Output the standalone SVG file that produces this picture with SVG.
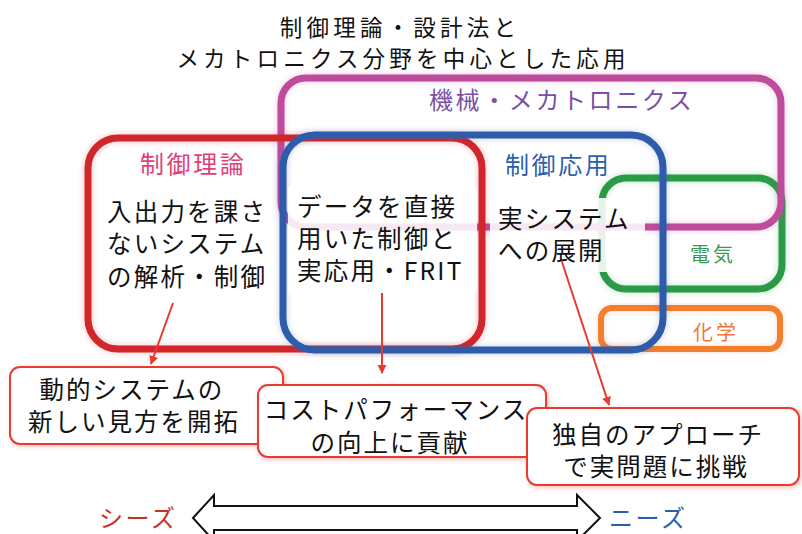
<svg xmlns="http://www.w3.org/2000/svg" width="802" height="534" viewBox="0 0 802 534">
  <defs>
    <style>
      text { font-family: "Noto Sans CJK JP", "Noto Sans", sans-serif; }
      .title { font-size: 22.5px; letter-spacing: 4.2px; fill: #111; text-anchor: middle; }
      .body { font-size: 24.5px; letter-spacing: 2.2px; fill: #111; }
      .callt { font-size: 24.5px; letter-spacing: 2px; fill: #111; text-anchor: middle; }
      .lbl { font-size: 24px; letter-spacing: 2.6px; }
      .small { font-size: 20px; letter-spacing: 3px; }
      .frame { fill: none; }
      .callout { fill: #fff; stroke: #E83A33; stroke-width: 2; }
      .conn { stroke: #E83A33; stroke-width: 2; fill: none; marker-end: url(#ah); }
      .bg { fill: #fff; fill-opacity: 0.88; }
    </style>
    <filter id="glow" x="-10%" y="-10%" width="120%" height="120%">
      <feGaussianBlur in="SourceGraphic" stdDeviation="3" result="b"/>
      <feComponentTransfer in="b" result="bl"><feFuncA type="linear" slope="0.3"/></feComponentTransfer>
      <feMerge><feMergeNode in="bl"/><feMergeNode in="SourceGraphic"/></feMerge>
    </filter>
    <filter id="shadow" x="-10%" y="-10%" width="125%" height="130%">
      <feDropShadow dx="1.5" dy="1.5" stdDeviation="2" flood-color="#E83A33" flood-opacity="0.35"/>
    </filter>
    <marker id="ah" viewBox="0 0 10 10" refX="9" refY="5" markerWidth="9" markerHeight="9" markerUnits="userSpaceOnUse" orient="auto">
      <path d="M0,0 L10,5 L0,10 z" fill="#E83A33"/>
    </marker>
  </defs>

  <g id="title">
    <text class="title" x="400" y="36">制御理論・設計法と</text>
    <text class="title" x="403" y="67">メカトロニクス分野を中心とした応用</text>
  </g>

  <g id="electric">
    <rect class="frame" x="602" y="178" width="180" height="111" rx="24" stroke="#2B9A47" stroke-width="7" filter="url(#glow)"/>
    <text class="lbl small" x="690" y="262" fill="#3A9A50">電気</text>
  </g>

  <g id="chemistry">
    <rect class="frame" x="601" y="308" width="179" height="41" rx="11" stroke="#F17F2D" stroke-width="6" filter="url(#glow)"/>
    <text class="lbl small" x="693" y="340" fill="#F0773A">化学</text>
  </g>

  <g id="mechatronics">
    <rect class="frame" x="281" y="78" width="500" height="149" rx="25" stroke="#BE4B9B" stroke-width="7" filter="url(#glow)"/>
    <text class="lbl" x="429" y="109" fill="#7A4FA5">機械・メカトロニクス</text>
  </g>

  <g id="control-theory">
    <rect class="frame" x="88" y="138" width="394" height="211" rx="30" stroke="#D1262B" stroke-width="7" filter="url(#glow)"/>
    <text class="lbl" x="140" y="173" fill="#E0407A">制御理論</text>
    <text class="body" x="107" y="221">入出力を課さ</text>
    <text class="body" x="107" y="253">ないシステム</text>
    <text class="body" x="107" y="286">の解析・制御</text>
  </g>

  <g id="control-application">
    <rect class="frame" x="283" y="135" width="380" height="215" rx="32" stroke="#2D5CAB" stroke-width="7" filter="url(#glow)"/>
    <text class="lbl" x="505" y="174" fill="#2E5EAE">制御応用</text>
  </g>

  <g id="data-driven">
    <rect class="bg" x="288" y="187" width="189" height="105"/>
    <text class="body" x="297" y="216">データを直接</text>
    <text class="body" x="297" y="248">用いた制御と</text>
    <text class="body" x="297" y="280">実応用・FRIT</text>
  </g>

  <g id="real-system">
    <rect class="bg" x="490" y="198" width="155" height="40"/>
    <rect class="bg" x="490" y="238" width="123" height="34"/>
    <text class="body" x="498" y="228">実システム</text>
    <text class="body" x="498" y="260">への展開</text>
  </g>

  <g id="connectors">
    <line class="conn" x1="173" y1="303" x2="151" y2="364"/>
    <line class="conn" x1="382" y1="293" x2="382" y2="373"/>
    <line class="conn" x1="562" y1="262" x2="609" y2="405"/>
  </g>

  <g id="callout-1">
    <rect class="callout" x="10" y="367" width="273" height="77" rx="10" filter="url(#shadow)"/>
    <text class="callt" x="132" y="399">動的システムの</text>
    <text class="callt" x="134" y="431">新しい見方を開拓</text>
  </g>

  <g id="callout-2">
    <rect class="callout" x="258" y="385" width="288" height="72" rx="10" filter="url(#shadow)"/>
    <text class="callt" x="396" y="419">コストパフォーマンス</text>
    <text class="callt" x="390" y="452">の向上に貢献</text>
  </g>

  <g id="callout-3">
    <rect class="callout" x="527" y="408" width="272" height="77" rx="10" filter="url(#shadow)"/>
    <text class="callt" x="658" y="444">独自のアプローチ</text>
    <text class="callt" x="656" y="476">で実問題に挑戦</text>
  </g>

  <g id="seeds-needs">
    <polygon points="193,518 214,495 214,506 577,506 577,495 600,518 577,541 577,530 214,530 214,541" fill="#fff" stroke="#111" stroke-width="2" stroke-linejoin="miter"/>
    <text class="lbl" x="99" y="527" fill="#C8302C">シーズ</text>
    <text class="lbl" x="609" y="527" fill="#2D5CAB">ニーズ</text>
  </g>
</svg>
